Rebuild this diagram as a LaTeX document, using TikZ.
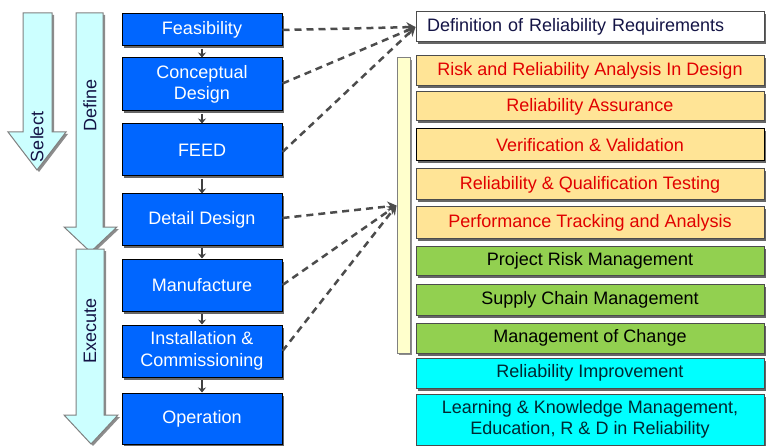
\documentclass[tikz,border=0pt]{standalone}
\usepackage{fontspec}
\setmainfont{Liberation Sans}
\usetikzlibrary{arrows.meta,shadows}
\definecolor{boxblue}{RGB}{0,102,255}
\definecolor{arrowcyan}{RGB}{204,255,255}
\definecolor{pale}{RGB}{255,255,204}
\definecolor{sand}{RGB}{255,228,150}
\definecolor{leaf}{RGB}{146,208,80}
\definecolor{aqua}{RGB}{0,255,255}
\definecolor{navy}{RGB}{20,20,70}
\definecolor{redtext}{RGB}{225,0,0}
\definecolor{darkteal}{RGB}{0,40,50}
\begin{document}
\begin{tikzpicture}[x=1pt,y=-1pt,
  txt/.style={font=\fontsize{18}{21.5}\selectfont},
  shadowed/.style={drop shadow={shadow xshift=1.5pt,shadow yshift=-2.5pt,fill=black!60,opacity=1}},
  phase/.style={txt,draw=black,line width=1pt,fill=boxblue,text=white,
    minimum width=160pt,align=center,inner sep=0pt,shadowed},
  item/.style={txt,draw=black!70,line width=1pt,minimum width=348pt,
    align=center,inner sep=0pt,shadowed},
  sanditem/.style={item,fill=sand,text=redtext},
  leafitem/.style={item,fill=leaf,text=black},
  aquaitem/.style={item,fill=aqua,text=darkteal},
  blockarrow/.style={draw=black!50,line width=1pt,fill=arrowcyan,
    drop shadow={shadow xshift=2pt,shadow yshift=-2pt,fill=black!45,opacity=1}},
  arrowlabel/.style={txt,rotate=90,text=navy,inner sep=0pt},
  link/.style={draw=black!75,line width=2.5pt,-{Stealth[length=5pt,width=8pt]}},
  dashlink/.style={draw=black!70,line width=2.5pt,dash pattern=on 7pt off 5pt,
    -{Stealth[length=9pt,width=10pt]}},
]
\useasboundingbox (0,0) rectangle (767,446);

% stage arrows on the left
\draw[blockarrow] (23,13) -- (52,13) -- (52,132) -- (66,132) -- (37,170)
  -- (8,132) -- (23,132) -- cycle;
\draw[blockarrow] (76,13) -- (103,13) -- (103,227) -- (117,227) -- (90.5,252)
  -- (64,227) -- (76,227) -- cycle;
\draw[blockarrow] (76,249) -- (104,249) -- (104,415) -- (118,415) -- (91,444)
  -- (64,415) -- (76,415) -- cycle;
\node[arrowlabel] (select) at (37,137) {Select};
\node[arrowlabel] (define) at (90,105) {Define};
\node[arrowlabel] (execute) at (90,331) {Execute};

% project phases
\node[phase,minimum height=32pt] (feas) at (202,30) {Feasibility};
\node[phase,minimum height=53pt] (concept) at (202,84.5) {Conceptual\\Design};
\node[phase,minimum height=52pt] (feed) at (202,150) {FEED};
\node[phase,minimum height=51pt] (detail) at (202,219.5) {Detail Design};
\node[phase,minimum height=52pt] (manuf) at (202,285) {Manufacture};
\node[phase,minimum height=52pt] (install) at (202,351) {Installation \&\\Commissioning};
\node[phase,minimum height=51pt] (oper) at (202,418.5) {Operation};

\foreach \a/\b in {feas/concept,concept/feed,feed/detail,detail/manuf,manuf/install,install/oper}
  \draw[link] ([yshift=-2.5pt]\a.south) -- (\b.north);

% reliability activities
\node[item,fill=white,text=navy,minimum height=30pt,text width=326pt,align=left] (defn) at (590,27)
  {Definition of Reliability Requirements};
\node[sanditem,minimum height=30pt] (risk) at (590,71) {Risk and Reliability Analysis In Design};
\node[sanditem,minimum height=29pt] (assur) at (590,106.5) {Reliability Assurance};
\node[sanditem,draw=black,minimum height=32pt] (vv) at (590,145) {Verification \& Validation};
\node[sanditem,minimum height=31pt] (rqt) at (590,184.5) {Reliability \& Qualification Testing};
\node[sanditem,minimum height=31pt] (perf) at (590,222.5) {Performance Tracking and Analysis};
\node[leafitem,minimum height=29pt] (prm) at (590,260.5) {Project Risk Management};
\node[leafitem,minimum height=31pt] (scm) at (590,299.5) {Supply Chain Management};
\node[leafitem,minimum height=30pt] (moc) at (590,338) {Management of Change};
\node[aquaitem,minimum height=30pt] (ri) at (590,373) {Reliability Improvement};
\node[aquaitem,minimum height=51pt] (lkm) at (590,419.5)
  {Learning \& Knowledge Management,\\Education, R \& D in Reliability};

% bracket bar grouping the activities
\node[draw=black!50,line width=1pt,fill=pale,minimum width=13pt,minimum height=295pt,
  inner sep=0pt,drop shadow={shadow xshift=2pt,shadow yshift=-2pt,fill=black!45,opacity=1}]
  (bar) at (403.5,205.5) {};

% phase-to-activity links
\draw[dashlink] (feas.east) -- (defn.west);
\draw[dashlink] ([yshift=1pt]concept.east) -- (defn.west);
\draw[dashlink] ([yshift=-2pt]feed.east) -- (defn.west);
\draw[dashlink] ([yshift=1.5pt]detail.east) -- (bar.west);
\draw[dashlink] (manuf.east) -- (bar.west);
\draw[dashlink] (install.east) -- (bar.west);
\end{tikzpicture}
\end{document}
